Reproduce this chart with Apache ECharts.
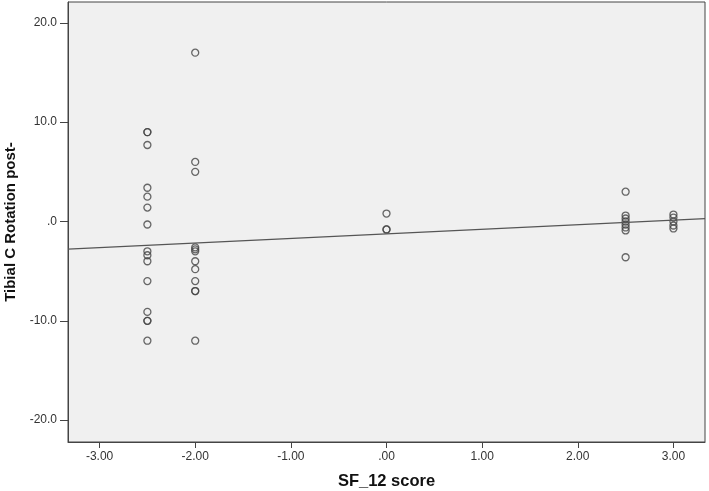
<!DOCTYPE html>
<html>
<head>
<meta charset="utf-8">
<style>
  html, body { margin: 0; padding: 0; background: #fff; }
  #chart { width: 709px; height: 491px; }
</style>
<script src="https://cdn.jsdelivr.net/npm/echarts@6/dist/echarts.min.js"></script>
</head>
<body>
<div id="chart"></div>
<script>
// SF_12 score (x) and tibial C rotation post- (y)
const sfScore = [
  -2.5, -2.5, -2.5, -2.5, -2.5, -2.5, -2.5, -2.5, -2.5, -2.5, -2.5, -2.5, -2.5, -2.5, -2.5,
  -2.0, -2.0, -2.0, -2.0, -2.0, -2.0, -2.0, -2.0, -2.0, -2.0, -2.0, -2.0,
  0.0, 0.0, 0.0,
  2.5, 2.5, 2.5, 2.5, 2.5, 2.5, 2.5, 2.5,
  3.0, 3.0, 3.0, 3.0, 3.0
]
const tibialRotation = [
  9, 9, 7.7, 3.4, 2.5, 1.4, -0.3, -3.0, -3.4, -4.0, -6.0, -9.1, -10.0, -10.0, -12.0,
  17, 6, 5, -2.6, -2.8, -3.0, -4.0, -4.8, -6.0, -7.0, -7.0, -12.0,
  0.8, -0.8, -0.8,
  3.0, 0.6, 0.3, 0.0, -0.3, -0.6, -0.9, -3.6,
  0.7, 0.4, 0.0, -0.4, -0.7
]
// fit line ends (x, y)
const fitLine = [[-3.33, -2.78], [3.33, 0.28]]

const xTicks = [-3, -2, -1, 0, 1, 2, 3]
const yTicks = [-20, -10, 0, 10, 20]

// SPSS style: drop the leading zero
const fmt = (v, d) => {
  let s = Math.abs(v).toFixed(d)
  if (s.startsWith('0')) s = s.slice(1)
  return (v < 0 ? '-' : '') + s
}

const font = 'Arial, "Liberation Sans", sans-serif'
const chart = echarts.init(document.getElementById('chart'))

chart.setOption({
  animation: false,
  grid: {
    left: 68,
    right: 4,
    top: 2,
    bottom: 49,
    outerBoundsMode: 'none',
    show: true,
    backgroundColor: '#f0f0f0',
    borderColor: '#444',
    borderWidth: 1
  },
  xAxis: {
    type: 'value',
    min: -3.33,
    max: 3.33,
    name: 'SF_12 score',
    nameLocation: 'middle',
    nameGap: 31,
    nameTextStyle: { fontFamily: font, fontWeight: 'bold', fontSize: 16.5, color: '#111' },
    axisLine: { show: true, onZero: false, lineStyle: { color: '#444' } },
    axisTick: { show: true, customValues: xTicks, length: 6, lineStyle: { color: '#444' } },
    axisLabel: {
      customValues: xTicks,
      formatter: v => fmt(v, 2),
      fontFamily: font,
      fontSize: 12,
      color: '#333',
      margin: 9
    },
    splitLine: { show: false }
  },
  yAxis: {
    type: 'value',
    min: -22.2,
    max: 22.1,
    name: 'Tibial C Rotation post-',
    nameLocation: 'middle',
    nameGap: 47,
    nameTextStyle: { fontFamily: font, fontWeight: 'bold', fontSize: 15, color: '#111' },
    axisLine: { show: true, onZero: false, lineStyle: { color: '#444' } },
    axisTick: { show: true, customValues: yTicks, length: 8, lineStyle: { color: '#444' } },
    axisLabel: {
      customValues: yTicks,
      formatter: v => fmt(v, 1),
      fontFamily: font,
      fontSize: 12,
      color: '#333',
      margin: 11
    },
    splitLine: { show: false }
  },
  series: [
    {
      type: 'scatter',
      data: sfScore.map((x, i) => [x, tibialRotation[i]]),
      symbol: 'circle',
      symbolSize: 7,
      itemStyle: { color: 'rgba(0,0,0,0)', borderColor: '#444', borderWidth: 1.3 }
    },
    {
      type: 'line',
      data: fitLine,
      symbol: 'none',
      lineStyle: { color: '#555', width: 1.3 }
    }
  ]
})
</script>
</body>
</html>
